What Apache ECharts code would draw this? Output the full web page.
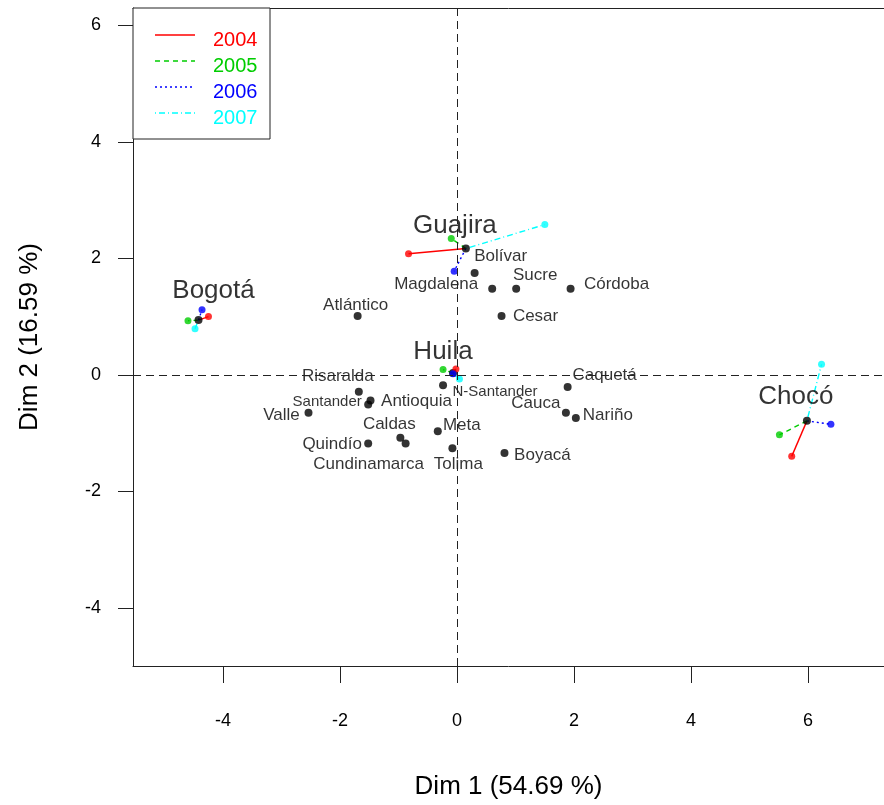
<!DOCTYPE html>
<html>
<head>
<meta charset="utf-8">
<script src="https://cdn.jsdelivr.net/npm/echarts@6/dist/echarts.min.js"></script>
<style>
html,body{margin:0;padding:0;background:#fff;}
#chart{width:884px;height:805px;}
</style>
</head>
<body>
<div id="chart"></div>
<script>
// ---------- DATA ----------
const years = ['2004', '2005', '2006', '2007'];
const yearColors = ['#FF0000', '#00CD00', '#0000FF', '#00FFFF'];

// groups with partial points (mean point + one per year)
const groupNames = ['Bogotá', 'Guajira', 'Huila', 'Chocó'];
const groupX = [-4.42, 0.15, -0.07, 5.98];
const groupY = [0.94, 2.17, 0.03, -0.79];

const partialX2004 = [-4.25, -0.83, -0.02, 5.72];
const partialY2004 = [1.00, 2.08, 0.10, -1.40];
const partialX2005 = [-4.60, -0.10, -0.24, 5.51];
const partialY2005 = [0.93, 2.34, 0.09, -1.03];
const partialX2006 = [-4.36, -0.05, -0.07, 6.39];
const partialY2006 = [1.12, 1.78, 0.02, -0.85];
const partialX2007 = [-4.48, 1.50, 0.04, 6.23];
const partialY2007 = [0.79, 2.58, -0.07, 0.18];

// other departments
const deptNames = ['Atlántico', 'Bolívar', 'Magdalena', 'Sucre', 'Córdoba', 'Cesar',
  'Risaralda', 'Santander', 'Antioquia', 'Valle', 'Caldas', 'Cundinamarca', 'Quindío',
  'Meta', 'Tolima', 'N-Santander', 'Caquetá', 'Cauca', 'Nariño', 'Boyacá'];
const deptX = [-1.70, 0.30, 0.60, 1.01, 1.94, 0.76,
  -1.68, -1.52, -1.48, -2.54, -0.97, -0.88, -1.52,
  -0.33, -0.08, -0.24, 1.89, 1.86, 2.03, 0.81];
const deptY = [1.01, 1.75, 1.48, 1.48, 1.48, 1.01,
  -0.29, -0.51, -0.44, -0.65, -1.08, -1.18, -1.18,
  -0.97, -1.26, -0.18, -0.21, -0.65, -0.74, -1.34];

const xTicks = [-4, -2, 0, 2, 4, 6];
const yTicks = [-4, -2, 0, 2, 4, 6];
const xTitle = 'Dim 1 (54.69 %)';
const yTitle = 'Dim 2 (16.59 %)';

// ---------- LAYOUT / STYLE ----------
const FONT = '"Liberation Sans", Arial, sans-serif';
const labelOffsets = {
  'Bogotá': [15, -29], 'Guajira': [-11, -23], 'Huila': [-10, -21], 'Chocó': [-11, -24],
  'Atlántico': [-2, -11], 'Bolívar': [26, -17], 'Magdalena': [-56, -4], 'Sucre': [19, -13],
  'Córdoba': [46, -4], 'Cesar': [34, 0], 'Risaralda': [-21, -15], 'Santander': [-41, -3],
  'Antioquia': [46, 1], 'Valle': [-27, 3], 'Caldas': [-11, -13], 'Cundinamarca': [-37, 21],
  'Quindío': [-36, 1], 'Meta': [24, -6], 'Tolima': [6, 16], 'N-Santander': [52, 7],
  'Caquetá': [37, -12], 'Cauca': [-30, -9], 'Nariño': [32, -3], 'Boyacá': [38, 2]
};
const smallLabels = { 'Santander': 15, 'N-Santander': 15 };
const lineTypes = ['solid', [5, 4], [2, 3], [1, 3, 6, 3]];

const gridLeft = 133, gridTop = 8, pxPerUnit = 58.5;
const xMin = -5.54, yMin = -5;
const xMax = xMin + (884 - gridLeft) / pxPerUnit;
const yMax = 6.3;
const gridBottom = 805 - (gridTop + (yMax - yMin) * pxPerUnit);

const partialXs = [partialX2004, partialX2005, partialX2006, partialX2007];
const partialYs = [partialY2004, partialY2005, partialY2006, partialY2007];

const series = [];

// zero reference lines
series.push({
  type: 'scatter', data: [], silent: true, z: 1,
  markLine: {
    silent: true, symbol: 'none', animation: false,
    label: { show: false },
    lineStyle: { color: '#222', type: [8, 5], width: 1 },
    data: [{ xAxis: 0 }, { yAxis: 0 }]
  }
});

// segments from group mean to partial points
years.forEach((yr, k) => {
  series.push({
    type: 'lines', coordinateSystem: 'cartesian2d', z: 2, silent: true,
    lineStyle: { color: yearColors[k], width: 1.4, type: lineTypes[k], opacity: 1 },
    data: groupNames.map((g, i) => ({
      coords: [[groupX[i], groupY[i]], [partialXs[k][i], partialYs[k][i]]]
    }))
  });
});

// black department points
const deptData = deptNames.map((n, i) => ({
  name: n, value: [deptX[i], deptY[i]],
  label: { offset: labelOffsets[n], fontSize: smallLabels[n] || 17 }
}));
const groupData = groupNames.map((n, i) => ({
  name: n, value: [groupX[i], groupY[i]],
  label: { offset: labelOffsets[n], fontSize: 26 }
}));
series.push({
  type: 'scatter', z: 3, symbol: 'circle', symbolSize: 8,
  itemStyle: { color: '#000' },
  label: {
    show: true, position: 'inside', align: 'center', verticalAlign: 'middle',
    color: '#000', textBorderWidth: 0, fontFamily: FONT,
    formatter: p => p.name
  },
  data: deptData.concat(groupData)
});

// partial points
years.forEach((yr, k) => {
  series.push({
    type: 'scatter', z: 4, symbol: 'circle', symbolSize: 7,
    itemStyle: { color: yearColors[k] },
    data: groupNames.map((g, i) => [partialXs[k][i], partialYs[k][i]])
  });
});

// legend drawn as graphic
const legendEls = [{
  type: 'rect', shape: { x: 133, y: 8, width: 137, height: 131 },
  style: { fill: '#fff', stroke: '#222', lineWidth: 1 }, z: 10
}];
const legendLineY = [35, 61, 87, 113];
years.forEach((yr, k) => {
  legendEls.push({
    type: 'line', shape: { x1: 155, y1: legendLineY[k], x2: 195, y2: legendLineY[k] },
    style: { stroke: yearColors[k], lineWidth: 1.4, lineDash: lineTypes[k] === 'solid' ? null : lineTypes[k] },
    z: 11
  });
  legendEls.push({
    type: 'text', x: 213, y: legendLineY[k] + 5,
    style: { text: yr, fill: yearColors[k], font: '20px ' + FONT, textVerticalAlign: 'middle' },
    z: 11
  });
});

const chart = echarts.init(document.getElementById('chart'), null, { renderer: 'canvas' });
chart.setOption({
  animation: false,
  backgroundColor: '#fff',
  grid: {
    left: gridLeft, top: gridTop, right: 0, bottom: gridBottom, show: false
  },
  xAxis: [{
    type: 'value', min: xMin, max: xMax,
    name: xTitle, nameLocation: 'middle', nameGap: 108,
    nameTextStyle: { fontFamily: FONT, fontSize: 26, color: '#000' },
    axisLine: { show: true, onZero: false, lineStyle: { color: '#222', width: 1 } },
    axisTick: { show: true, length: 17, inside: false, customValues: xTicks, lineStyle: { color: '#222' } },
    axisLabel: { customValues: xTicks, margin: 46, fontFamily: FONT, fontSize: 18, color: '#000' },
    splitLine: { show: false }
  }, {
    type: 'value', min: xMin, max: xMax, position: 'top',
    axisLine: { show: true, onZero: false, lineStyle: { color: '#222', width: 1 } },
    axisTick: { show: false }, axisLabel: { show: false }, splitLine: { show: false }
  }],
  yAxis: {
    type: 'value', min: yMin, max: yMax,
    name: yTitle, nameLocation: 'middle', nameGap: 90, nameRotate: 90,
    nameTextStyle: { fontFamily: FONT, fontSize: 26, color: '#000' },
    axisLine: { show: true, onZero: false, lineStyle: { color: '#222', width: 1 } },
    axisTick: { show: true, length: 15, inside: false, customValues: yTicks, lineStyle: { color: '#222' } },
    axisLabel: { customValues: yTicks, margin: 32, fontFamily: FONT, fontSize: 18, color: '#000' },
    splitLine: { show: false }
  },
  graphic: legendEls,
  series: series
});
</script>
</body>
</html>
